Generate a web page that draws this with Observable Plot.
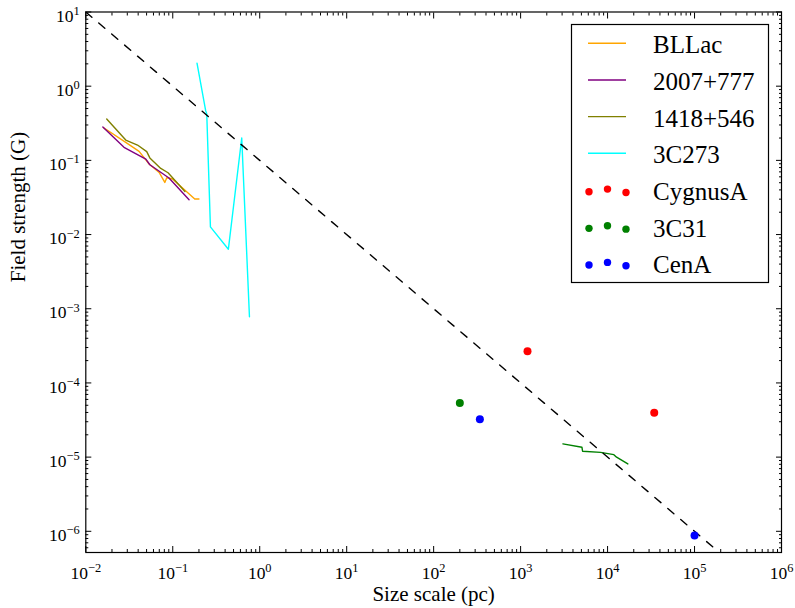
<!DOCTYPE html>
<html>
<head>
<meta charset="utf-8">
<script src="https://cdn.jsdelivr.net/npm/d3@7"></script>
<script src="https://cdn.jsdelivr.net/npm/@observablehq/plot@0.6"></script>
<style>
  html, body { margin: 0; padding: 0; background: #fff; }
  #wrap { position: relative; width: 795px; height: 608px; }
  #legend { position: absolute; left: 0; top: 0; pointer-events: none; }
  svg text { font-family: "Liberation Serif", "Times New Roman", serif; }
</style>
</head>
<body>
<div id="wrap"></div>
<script>
// ---- data (size scale in pc, field strength in G) ----
const bllacSize  = [0.0162, 0.0288, 0.041, 0.0535, 0.0697, 0.081, 0.0853, 0.0993, 0.179, 0.200];
const bllacField = [0.273, 0.175, 0.132, 0.0893, 0.0687, 0.0504, 0.0583, 0.0560, 0.0301, 0.0301];

const s2007Size  = [0.0157, 0.0275, 0.049, 0.0545, 0.0905, 0.154];
const s2007Field = [0.282, 0.150, 0.104, 0.0873, 0.0578, 0.0294];

const s1418Size  = [0.0174, 0.0288, 0.0393, 0.0502, 0.0545, 0.0728, 0.0883, 0.138];
const s1418Field = [0.361, 0.188, 0.161, 0.131, 0.108, 0.0778, 0.0681, 0.0381];

const c273Size  = [0.190, 0.239, 0.246, 0.271, 0.436, 0.621, 0.762];
const c273Field = [2.04, 0.468, 0.423, 0.0127, 0.00635, 0.200, 0.00078];

const c31LineSize  = [3063, 5070, 5160, 8310, 11810, 12690, 17100];
const c31LineField = [1.51e-5, 1.36e-5, 1.20e-5, 1.16e-5, 1.08e-5, 9.97e-6, 8.1e-6];

const cygSize  = [1200, 34400];
const cygField = [2.67e-4, 3.95e-5];

const c31Size  = [200];
const c31Field = [5.35e-5];

const cenSize  = [340, 1e5];
const cenField = [3.25e-5, 8.8e-7];

const refSize  = [1e-2, 1e6];
const refField = [10, 1e-7];

const legendNames  = ["BLLac", "2007+777", "1418+546", "3C273", "CygnusA", "3C31", "CenA"];
const legendColors = ["orange", "purple", "olive", "cyan", "red", "green", "blue"];
const legendKinds  = ["line", "line", "line", "line", "dot", "dot", "dot"];

const xTickValues = [1e-2, 1e-1, 1e0, 1e1, 1e2, 1e3, 1e4, 1e5, 1e6];
const xTickLabels = ["10^-2", "10^-1", "10^0", "10^1", "10^2", "10^3", "10^4", "10^5", "10^6"];
const yTickValues = [1e-6, 1e-5, 1e-4, 1e-3, 1e-2, 1e-1, 1e0, 1e1];
const yTickLabels = ["10^-6", "10^-5", "10^-4", "10^-3", "10^-2", "10^-1", "10^0", "10^1"];

const xLabel = "Size scale (pc)";
const yLabel = "Field strength (G)";

// ---- build ----
const xDomain = [1e-2, 1e6];
const yDomain = [5.18e-7, 10];
const pts = (xs, ys) => xs.map((x, i) => ({x, y: ys[i]}));
const minorTicks = (dom) => {
  const out = [];
  for (let e = Math.floor(Math.log10(dom[0])) ; e < Math.ceil(Math.log10(dom[1])); e++)
    for (let k = 2; k <= 9; k++) { const v = k * Math.pow(10, e); if (v >= dom[0] && v <= dom[1]) out.push(v); }
  return out;
};
const xMinor = minorTicks(xDomain);
const yMinor = minorTicks(yDomain);
const blank = () => "";
const xFmt = d => xTickLabels[xTickValues.findIndex(v => Math.abs(Math.log10(v) - Math.log10(d)) < 1e-6)];
const yFmt = d => yTickLabels[yTickValues.findIndex(v => Math.abs(Math.log10(v) - Math.log10(d)) < 1e-6)];
const lineOpts = (c) => ({x: "x", y: "y", stroke: c, strokeWidth: 1.4, clip: true});

const plot = Plot.plot({
  width: 795,
  height: 608,
  marginLeft: 85.3,
  marginRight: 14,
  marginTop: 11.5,
  marginBottom: 56,
  style: {fontFamily: "'Liberation Serif', 'Times New Roman', serif", background: "#fff", color: "#000"},
  x: {type: "log", domain: xDomain},
  y: {type: "log", domain: yDomain},
  marks: [
    Plot.line(pts(bllacSize, bllacField), lineOpts("orange")),
    Plot.line(pts(s2007Size, s2007Field), lineOpts("purple")),
    Plot.line(pts(s1418Size, s1418Field), lineOpts("olive")),
    Plot.line(pts(c273Size, c273Field), lineOpts("cyan")),
    Plot.line(pts(c31LineSize, c31LineField), lineOpts("green")),
    Plot.line(pts(refSize, refField), {x: "x", y: "y", stroke: "black", strokeWidth: 1.4, strokeDasharray: "8,9", clip: true}),
    Plot.dot(pts(cygSize, cygField), {x: "x", y: "y", r: 4, fill: "red"}),
    Plot.dot(pts(c31Size, c31Field), {x: "x", y: "y", r: 4, fill: "green"}),
    Plot.dot(pts(cenSize, cenField), {x: "x", y: "y", r: 4, fill: "blue"}),
    // tick labels
    Plot.axisX(xTickValues, {anchor: "bottom", tickSize: 0, tickPadding: 14, fontSize: 17.5, tickFormat: xFmt, label: null}),
    Plot.axisY(yTickValues, {anchor: "left", tickSize: 0, tickPadding: 6, fontSize: 17.5, dy: 4, tickFormat: yFmt, label: null}),
    // inward ticks, all four sides
    Plot.axisX(xTickValues, {anchor: "bottom", tickSize: -6, tickFormat: blank, label: null}),
    Plot.axisX(xMinor, {anchor: "bottom", tickSize: -3, tickFormat: blank, label: null}),
    Plot.axisX(xTickValues, {anchor: "top", tickSize: -6, tickFormat: blank, label: null}),
    Plot.axisX(xMinor, {anchor: "top", tickSize: -3, tickFormat: blank, label: null}),
    Plot.axisY(yTickValues, {anchor: "left", tickSize: -6, tickFormat: blank, label: null}),
    Plot.axisY(yMinor, {anchor: "left", tickSize: -3, tickFormat: blank, label: null}),
    Plot.axisY(yTickValues, {anchor: "right", tickSize: -6, tickFormat: blank, label: null}),
    Plot.axisY(yMinor, {anchor: "right", tickSize: -3, tickFormat: blank, label: null}),
    // axis titles
    Plot.text([xLabel], {frameAnchor: "bottom", dy: 48, fontSize: 21, text: d => d}),
    Plot.text([yLabel], {frameAnchor: "left", dx: -68, rotate: -90, fontSize: 21, text: d => d}),
    Plot.frame({stroke: "black", strokeWidth: 1.2})
  ]
});

// superscript exponents in tick labels
const ns = "http://www.w3.org/2000/svg";
plot.querySelectorAll("text").forEach(t => {
  const s = t.textContent;
  if (!s.includes("^")) return;
  const [base, exp] = s.split("^");
  t.textContent = "";
  const a = document.createElementNS(ns, "tspan");
  a.textContent = base;
  const b = document.createElementNS(ns, "tspan");
  b.textContent = exp.replace("-", "\u2212");
  b.setAttribute("font-size", "12.4");
  b.setAttribute("dy", "-6.6");
  t.appendChild(a);
  t.appendChild(b);
});

const wrap = document.getElementById("wrap");
wrap.appendChild(plot);

// legend overlay
const lg = d3.select(wrap).append("svg").attr("id", "legend").attr("width", 795).attr("height", 608);
lg.append("rect").attr("x", 571.5).attr("y", 24.5).attr("width", 197).attr("height", 258)
  .attr("fill", "#fff").attr("stroke", "#000").attr("stroke-width", 1.2);
legendNames.forEach((name, i) => {
  const cy = 44 + i * 36.67;
  const g = lg.append("g");
  if (legendKinds[i] === "line") {
    g.append("line").attr("x1", 588).attr("x2", 626).attr("y1", cy - 0.7).attr("y2", cy - 0.7)
      .attr("stroke", legendColors[i]).attr("stroke-width", 1.4);
  } else {
    [[589, 1], [607.5, -1.6], [626, 1.8]].forEach(([dx, dy]) => {
      g.append("circle").attr("cx", dx).attr("cy", cy + dy).attr("r", 3.7).attr("fill", legendColors[i]);
    });
  }
  g.append("text").attr("x", 653).attr("y", cy + 9.3).attr("font-size", 25)
    .attr("font-family", "Liberation Serif, Times New Roman, serif").attr("fill", "#000").text(name);
});
</script>
</body>
</html>
